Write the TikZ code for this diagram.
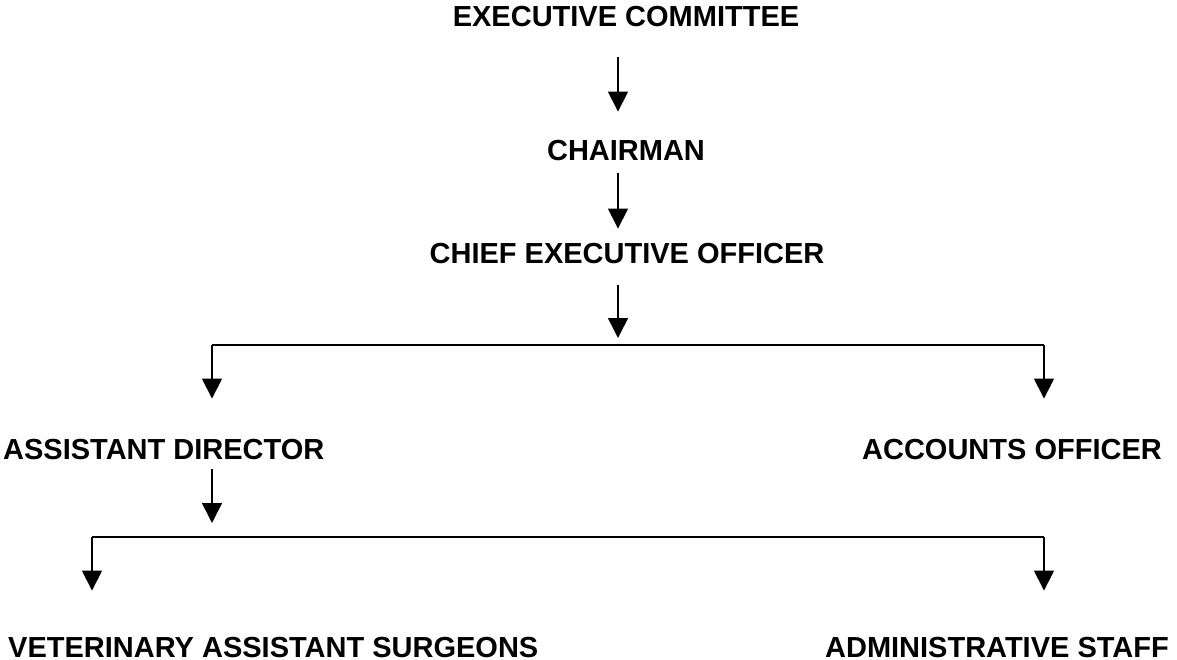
\documentclass[tikz,border=0pt]{standalone}
\usepackage{fontspec}
\setmainfont{Liberation Sans}
\usepackage{tikz}
\usetikzlibrary{positioning,arrows.meta}

\begin{document}
\begin{tikzpicture}[x=1pt,y=-1pt,
            post/.style={inner sep=0pt,font=\fontsize{29}{34}\selectfont\bfseries},
            link/.style={line width=1.6pt,-{Triangle[width=20pt,length=20pt]}},
            bar/.style={line width=1.6pt}]
            \useasboundingbox (0,0) rectangle (1177,660);
            \node[post,anchor=base] (ec) at (626,27) {EXECUTIVE COMMITTEE};
            \node[post,anchor=base] (ch) at (626,161) {CHAIRMAN};
            \node[post,anchor=base] (ceo) at (627,263) {CHIEF EXECUTIVE OFFICER};
            \node[post,anchor=base west] (ad) at (3,459) {ASSISTANT DIRECTOR};
            \node[post,anchor=base east] (acc) at (1162,459) {ACCOUNTS OFFICER};
            \node[post,anchor=base west] (vas) at (8,657) {VETERINARY ASSISTANT SURGEONS};
            \node[post,anchor=base east] (adm) at (1169,657) {ADMINISTRATIVE STAFF};
            \coordinate (top) at (618,345);
            \coordinate (topl) at (212,345);
            \coordinate (topr) at (1044,345);
            \coordinate (low) at (212,537);
            \coordinate (lowl) at (92,537);
            \coordinate (lowr) at (1044,537);
            \draw[link] ([yshift=-30pt]ec.south -| top) -- ([yshift=29pt]ch.north -| top);
            \draw[link] ([yshift=-12pt]ch.south -| top) -- ([yshift=14pt]ceo.north -| top);
            \draw[link] ([yshift=-22pt]ceo.south -| top) -- ([yshift=7pt]top);
            \draw[bar] (topl) -- (topr);
            \draw[link] (topl) -- ([yshift=40pt]ad.north -| topl);
            \draw[link] (topr) -- ([yshift=40pt]acc.north -| topr);
            \draw[link] ([yshift=-10pt]ad.south -| low) -- ([yshift=14pt]low);
            \draw[bar] (lowl) -- (lowr);
            \draw[link] (lowl) -- ([yshift=46pt]vas.north -| lowl);
            \draw[link] (lowr) -- ([yshift=46pt]adm.north -| lowr);
\end{tikzpicture}
\end{document}
